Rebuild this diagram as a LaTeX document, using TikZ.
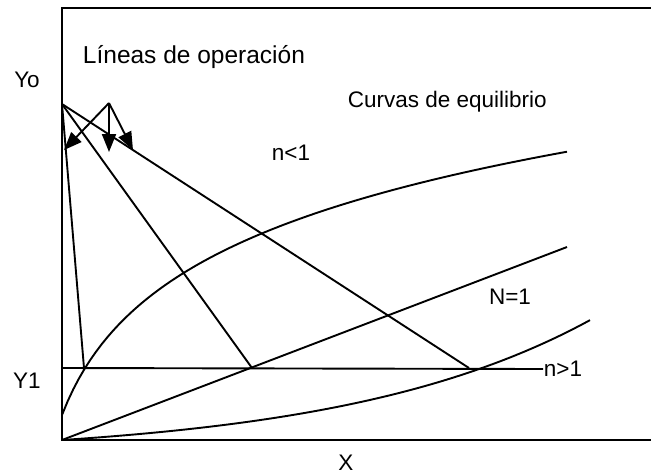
\documentclass[tikz,border=0pt]{standalone}
\usepackage{fontspec}
\setmainfont{Liberation Sans}
\usetikzlibrary{arrows.meta}

\begin{document}
\begin{tikzpicture}[
  x=1pt,y=-1pt,
  line width=1.9pt,
  lbl/.style={font=\fontsize{22.5}{27}\selectfont,inner sep=0pt},
  arr/.style={-{Triangle[length=18pt,width=14pt]},line width=1.9pt}]
  \useasboundingbox (0,0) rectangle (651,475);
  % marco y ejes
  \coordinate (o) at (62,440);
  \coordinate (yo) at (62,104);
  \coordinate (y1) at (62,368);
  \draw (651,8) -- (62,8) -- (o) -- (651,440);
  \node[lbl] (lyo) at (27,80) {Yo};
  \node[lbl] (ly1) at (27,381) {Y1};
  \node[lbl] (lx) at (346,463) {X};
  % lineas de operacion
  \node[lbl,anchor=west] (ngt) at (543,369) {n>1};
  \draw (y1) -- (ngt.west);
  \coordinate (p1) at (84,368);
  \coordinate (p2) at (252,368);
  \coordinate (p3) at (469,368);
  \foreach \p in {p1,p2,p3} \draw (yo) -- (\p);
  % curvas de equilibrio
  \coordinate (e1) at (567,247);
  \draw (o) -- (e1);
  \draw plot[domain=0:505,samples=90] ({62+\x},{415-99*ln(1+\x/38)});
  \draw plot[domain=0:528,samples=90] ({62+\x},{440-16.5*(exp(\x/250)-1)});
  \node[lbl] (nlt) at (291,153) {n<1};
  \node[lbl] (neq) at (510,297) {N=1};
  % rotulos
  \node[lbl,font=\fontsize{24.5}{29}\selectfont,anchor=west] (lop) at (82,57) {Líneas de operación};
  \node[lbl,anchor=west] (leq) at (347,102) {Curvas de equilibrio};
  \coordinate (ap) at (109,103);
  \coordinate (t1) at (64,150);
  \coordinate (t2) at (109,152);
  \coordinate (t3) at (133,150);
  \foreach \t in {t1,t2,t3} \draw[arr] (ap) -- (\t);
\end{tikzpicture}
\end{document}
